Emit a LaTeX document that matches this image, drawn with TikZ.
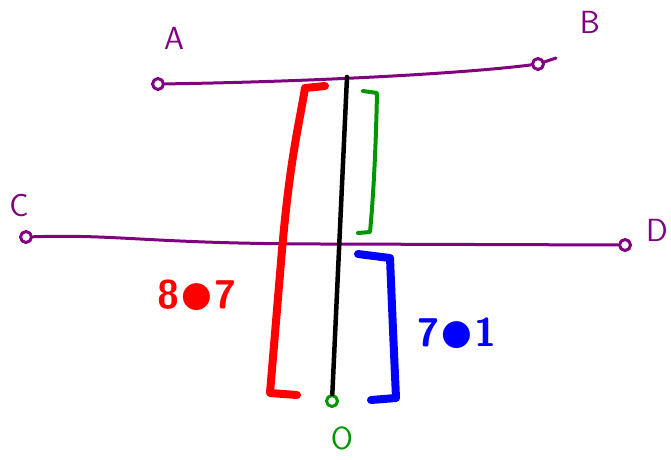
\documentclass[tikz,border=0pt]{standalone}
\definecolor{sketchpurple}{RGB}{128,0,128}
\definecolor{sketchgreen}{RGB}{0,150,0}
\newcommand{\bigdot}{\raisebox{-.15em}{\scalebox{2.8}{$\bullet$}}}
\begin{document}
\begin{tikzpicture}[x=1pt,y=-1pt,line cap=round,line join=round,
  pt/.style={circle,draw=#1,line width=3pt,fill=white,inner sep=0pt,minimum size=11pt},
  lbl/.style={text=#1,font=\fontsize{32}{32}\selectfont\sffamily},
  brk/.style={draw=#1,line width=8pt}]
\useasboundingbox (0,0) rectangle (671,459);
% points
\node[pt=sketchpurple] (A) at (158,84) {};
\node[pt=sketchpurple] (B) at (538,64) {};
\node[pt=sketchpurple] (C) at (26,237) {};
\node[pt=sketchpurple] (D) at (625,245) {};
\node[pt=sketchgreen] (O) at (332,401) {};
\coordinate (Btail) at (556,58);
\coordinate (top) at (347,77);
% labels
\node[lbl=sketchpurple] (Alab) at (174,38) {A};
\node[lbl=sketchpurple] (Blab) at (590,22) {B};
\node[lbl=sketchpurple] (Clab) at (19,205) {C};
\node[lbl=sketchpurple] (Dlab) at (657,230) {D};
\node[lbl=sketchgreen] (Olab) at (342,438) {O};
\node[lbl=red,font=\fontsize{40}{40}\selectfont\bfseries\sffamily] (red) at (197,297) {8\bigdot7};
\node[lbl=blue,font=\fontsize{40}{40}\selectfont\bfseries\sffamily] (blue) at (457,335) {7\bigdot1};
% lines
\draw[sketchpurple,line width=3pt] (A) .. controls (300,82) and (460,74) .. (B) -- (Btail);
\draw[sketchpurple,line width=3pt] (C) .. controls (120,234) and (150,244) .. (330,244) -- (D);
\draw[black,line width=4.5pt] (O) -- (top);
% brackets
\draw[brk=red] (325,86) -- (305,88) .. controls (298,130) and (290,160) .. (282,250) -- (270,393) -- (297,395);
\draw[sketchgreen,line width=4pt] (363,91) -- (377,93) .. controls (376,140) and (374,190) .. (370,232) -- (358,233);
\draw[brk=blue] (358,254) -- (390,258) -- (393,330) -- (396,398) -- (371,400);
\end{tikzpicture}
\end{document}
